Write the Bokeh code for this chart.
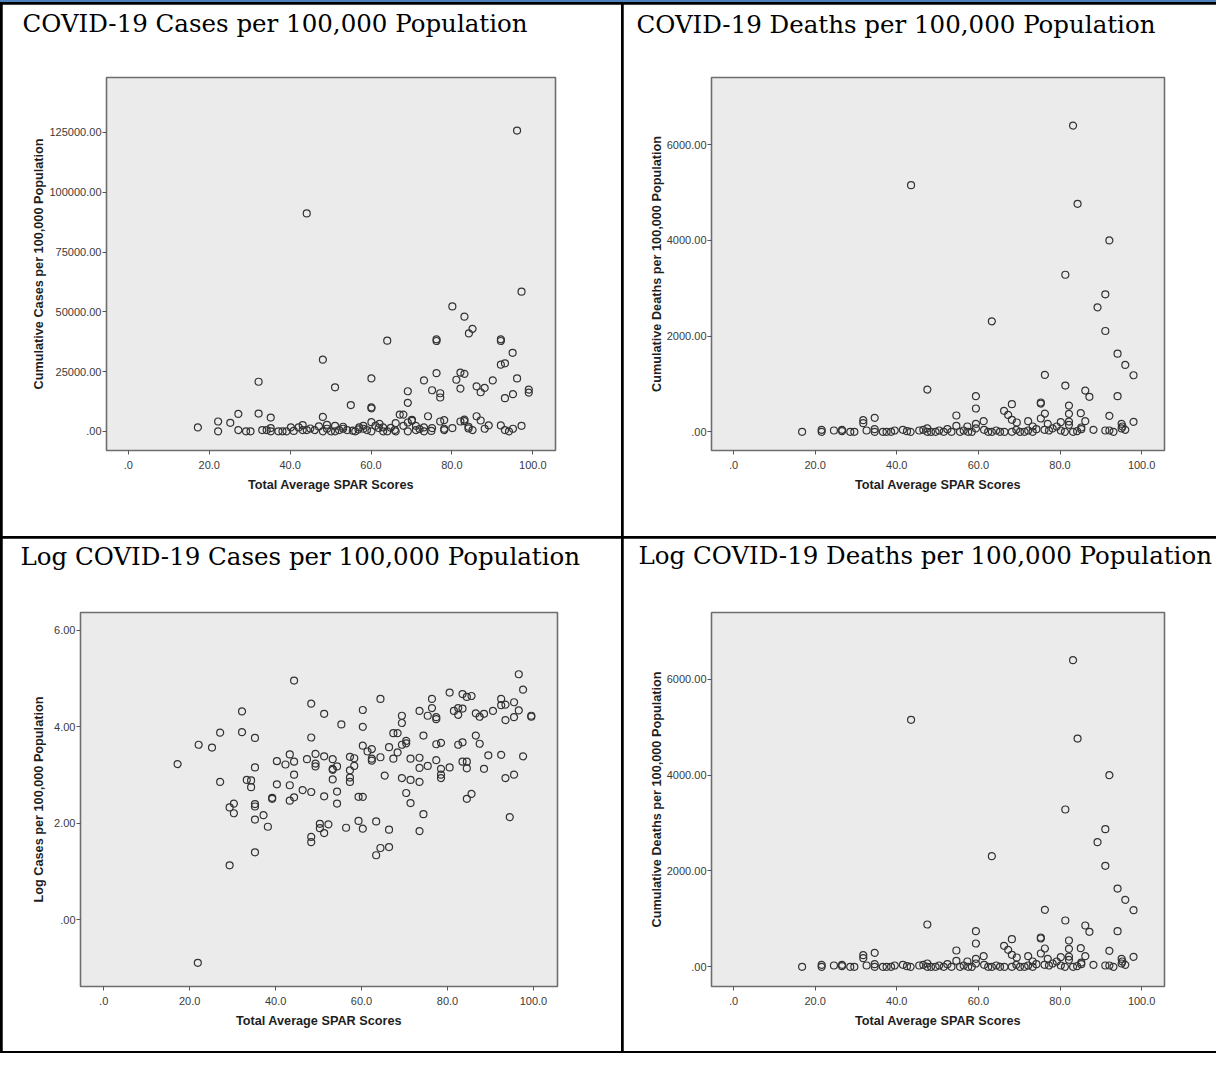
from bokeh.plotting import figure
from bokeh.models import FixedTicker, Title
from bokeh.layouts import row, column
from bokeh.embed import file_html
from bokeh.resources import INLINE

# ---------------- data ----------------
x_ticks = [0, 20, 40, 60, 80, 100]
x_tick_labels = [".0", "20.0", "40.0", "60.0", "80.0", "100.0"]

cases_ticks = [0, 25000, 50000, 75000, 100000, 125000]
cases_tick_labels = [".00", "25000.00", "50000.00", "75000.00", "100000.00", "125000.00"]
deaths_ticks = [0, 2000, 4000, 6000]
deaths_tick_labels = [".00", "2000.00", "4000.00", "6000.00"]
log_ticks = [0, 2, 4, 6]
log_tick_labels = [".00", "2.00", "4.00", "6.00"]

titles = ["COVID-19 Cases per 100,000 Population",
          "COVID-19 Deaths per 100,000 Population",
          "Log COVID-19 Cases per 100,000 Population",
          "Log COVID-19 Deaths per 100,000 Population"]
x_label = "Total Average SPAR Scores"
y_labels = ["Cumulative Cases per 100,000 Population",
            "Cumulative Deaths per 100,000 Population",
            "Log Cases per 100,000 Population",
            "Cumulative Deaths per 100,000 Population"]

spar_cases = [96.1, 44.1, 97.2, 80.1, 83.1, 85.1, 84.2, 64.0, 76.2, 76.2, 92.1, 92.1,
              48.1, 95.0, 92.1, 93.1, 32.2, 60.1, 76.2, 82.1, 83.1, 73.1, 81.1, 90.1,
              96.1, 51.1, 69.1, 75.1, 77.1, 77.1, 82.1, 86.1, 87.1, 88.1, 93.1, 95.1,
              99.0, 99.0, 69.1, 55.0, 60.1, 60.1,
              17.2, 22.2, 22.2, 25.2, 27.2, 27.2, 32.2, 29.1, 30.2, 33.1, 34.2, 35.2,
              35.2, 35.2, 37.1, 38.1, 39.1, 40.2, 42.1, 43.1, 43.1, 44.1, 46.1, 47.1,
              48.1, 48.1, 49.1, 49.1, 50.1, 51.1, 51.1, 52.1, 53.1, 53.1, 54.1, 56.1,
              57.1, 58.1, 58.1, 59.0, 60.1, 60.1, 61.1, 62.1, 63.0, 64.0, 63.0, 66.1,
              66.1, 67.1, 68.0, 68.0, 69.1, 69.1, 70.1, 70.1, 71.1, 71.1, 73.1, 73.1,
              74.1, 75.1, 77.1, 78.1, 78.1, 78.1, 80.1, 82.1, 83.1, 83.1, 84.1, 84.1,
              85.1, 86.1, 87.1, 88.1, 89.1, 92.1, 93.1, 94.1, 95.1, 97.2,
              45.0, 55.5, 64.9, 72.0, 74.9, 65.9, 56.9, 61.9, 40.9]
cases = [125800, 91160, 58440, 52250, 47990, 42900, 40980, 37950, 38500, 37800, 38500, 37800,
         29980, 32860, 27900, 28460, 20760, 22140, 24340, 24610, 24060, 21310, 21590, 21310,
         22140, 18430, 16780, 17190, 15950, 14160, 17880, 18840, 16360, 18150, 13890, 15540,
         17460, 16220, 11960, 11000, 10040, 9620,
         1650, 4125, 0, 3575, 7290, 550, 7425, 0, 0, 550, 550, 5775,
         1375, 0, 0, 0, 0, 1650, 1650, 2610, 550, 550, 550, 2060,
         6050, 0, 2750, 1100, 0, 0, 2340, 550, 1925, 1100, 550, 0,
         1650, 2340, 1100, 550, 3850, 0, 2340, 3160, 0, 0, 1650, 3440,
         0, 7010, 7010, 2340, 3710, 0, 4810, 4400, 2340, 550, 1650, 0,
         6325, 1375, 4125, 4675, 1100, 550, 1375, 4125, 4950, 4260, 1925, 1240,
         550, 6325, 4540, 1100, 2475, 2475, 550, 0, 1100, 2340,
         1200, 300, 1500, 1000, 200, 600, 800, 1400, 200]

spar_deaths = [83.2, 43.5, 84.3, 92.1, 81.3, 91.1, 89.2, 63.3, 91.1, 94.1, 96.0, 76.3,
               98.0, 81.3, 47.5, 86.2, 87.2, 59.4, 94.1, 75.3, 75.3, 68.2, 82.2, 59.4,
               66.3, 85.1, 76.3, 54.6, 34.6, 82.2, 67.3, 92.1, 75.3, 31.8, 31.8, 61.3,
               72.2, 86.2, 98.0, 68.2, 82.2, 77.0, 80.2, 69.4, 79.2, 95.1, 82.2, 54.6,
               57.3, 85.2, 73.3, 95.3, 59.4,
               16.8, 21.6, 21.6, 24.6, 26.6, 26.6, 28.6, 29.6, 32.6, 34.6, 34.6, 36.6,
               37.5, 38.6, 39.5, 41.5, 42.5, 43.4, 45.5, 46.5, 47.5, 47.5, 48.4, 49.5,
               50.4, 51.5, 52.4, 53.4, 55.5, 56.4, 57.5, 58.4, 59.4, 61.4, 62.4, 63.3,
               64.4, 65.3, 66.4, 68.2, 69.3, 70.2, 71.3, 72.2, 73.3, 74.2, 76.2, 77.3,
               78.2, 80.2, 81.2, 83.2, 84.2, 85.2, 88.2, 91.1, 92.1, 93.1, 95.1, 96.0]
deaths = [6395, 5151, 4761, 3997, 3281, 2871, 2600, 2308, 2106, 1633, 1397, 1189,
          1182, 966, 883, 862, 730, 744, 744, 591, 612, 577, 549, 487,
          438, 389, 382, 341, 292, 375, 354, 334, 278, 243, 181, 222,
          222, 222, 208, 250, 215, 167, 202, 195, 111, 167, 146, 125,
          111, 90, 111, 111, 167,
          0, 42, 0, 28, 42, 14, 0, 0, 28, 0, 56, 0,
          0, 0, 28, 42, 14, 0, 28, 42, 0, 70, 0, 0,
          28, 0, 56, 0, 0, 28, 0, 0, 70, 42, 0, 0,
          28, 0, 0, 0, 42, 0, 0, 28, 0, 56, 42, 28,
          70, 28, 0, 0, 14, 56, 42, 28, 28, 0, 70, 42]

spar_log = [17.2, 22.1, 25.2, 27.1, 27.1, 32.2, 32.2, 35.2, 35.2, 33.3, 34.3, 34.3,
            29.3, 30.3, 30.3, 35.2, 35.2, 35.2, 37.2, 38.2, 35.2, 29.3, 39.2, 39.2,
            40.3, 40.3, 42.3, 43.3, 43.3, 43.3, 44.3, 44.3, 44.3, 44.3, 46.3, 47.3,
            48.3, 48.3, 48.3, 48.3, 48.3, 49.3, 49.3, 49.3, 50.3, 50.3, 51.3, 51.3,
            51.3, 51.3, 52.3, 53.3, 53.3, 53.3, 53.3, 54.3, 54.3, 54.3, 55.3, 56.4,
            57.3, 57.3, 57.3, 57.3, 58.3, 58.3, 59.3, 59.3, 60.3, 60.3, 60.3, 60.3,
            60.3, 61.4, 62.4, 62.4, 62.4, 63.4, 63.4, 64.4, 64.4, 64.4, 65.4, 66.4,
            66.4, 66.4, 67.4, 67.4, 68.4, 68.4, 69.4, 69.4, 69.4, 69.4, 70.4, 70.4,
            70.4, 71.4, 71.4, 71.4, 73.5, 73.5, 73.5, 73.5, 73.5, 74.4, 74.4, 75.4,
            75.4, 76.4, 76.4, 77.4, 77.4, 77.4, 77.4, 78.5, 78.5, 78.5, 78.5, 80.5,
            80.5, 81.5, 82.5, 82.5, 82.5, 83.5, 83.5, 83.5, 83.5, 84.5, 84.5, 84.5,
            84.5, 85.6, 85.6, 86.6, 86.6, 87.5, 87.5, 88.5, 88.5, 89.5, 90.6, 92.5,
            92.5, 92.5, 93.5, 93.5, 93.5, 94.5, 95.5, 95.5, 95.5, 96.6, 96.6, 97.6,
            97.6, 99.5, 99.5, 21.9]
log_cases = [3.23, 3.63, 3.57, 3.88, 2.86, 4.32, 3.89, 3.77, 3.16, 2.90, 2.89, 2.75,
             2.33, 2.41, 2.21, 2.40, 2.35, 2.08, 2.17, 1.93, 1.40, 1.13, 2.53, 2.51,
             2.81, 3.29, 3.22, 3.43, 2.79, 2.47, 3.28, 3.01, 2.54, 4.96, 2.69, 3.33,
             4.48, 3.78, 2.65, 1.72, 1.61, 3.44, 3.24, 3.18, 1.99, 1.90, 4.27, 3.39,
             2.56, 1.80, 1.98, 3.33, 3.13, 3.11, 2.91, 3.18, 2.66, 2.41, 4.05, 1.91,
             3.38, 3.10, 2.95, 2.86, 3.35, 3.19, 2.55, 2.05, 4.35, 4.00, 3.61, 2.55,
             1.89, 3.49, 3.54, 3.34, 3.30, 2.04, 1.34, 4.58, 3.37, 1.49, 2.99, 3.58,
             1.87, 1.51, 3.87, 3.34, 3.87, 3.47, 4.23, 4.08, 3.63, 2.94, 3.71, 3.66,
             2.63, 3.34, 2.90, 2.42, 4.33, 3.36, 3.15, 2.86, 1.84, 3.82, 2.19, 4.23,
             3.19, 4.58, 4.39, 4.20, 4.16, 3.64, 3.31, 3.67, 3.13, 3.01, 2.94, 4.71,
             3.16, 4.33, 4.39, 4.25, 3.63, 4.68, 4.38, 3.68, 3.28, 4.62, 3.28, 3.14,
             2.51, 4.64, 2.61, 4.28, 3.82, 4.21, 3.65, 4.27, 3.13, 3.41, 4.33, 4.58,
             4.45, 3.42, 4.46, 4.14, 2.94, 2.13, 4.51, 4.20, 3.01, 5.09, 4.34, 4.77,
             3.39, 4.23, 4.21, -0.89]


def make_panel(title, xs, ys, ylabel, yticks, ytick_labels, yrange,
               w, h, mb_left, mb_right, mb_top, mb_bottom,
               title_offset, spacer, ylabel_standoff):
    p = figure(width=w, height=h, output_backend="svg", toolbar_location=None,
               x_range=(-5.4, 105.6), y_range=yrange,
               min_border_left=mb_left, min_border_right=mb_right,
               min_border_top=mb_top, min_border_bottom=mb_bottom)
    # thin invisible spacer between frame and title, so the title sits at the cell top
    p.add_layout(Title(text=" ", text_font_size="1px", standoff=spacer), "above")
    p.title.text = title
    p.title.text_font = "DejaVu Serif"
    p.title.text_font_size = "24.5px"
    p.title.text_font_style = "normal"
    p.title.text_color = "black"
    p.title.align = "left"
    p.title.offset = title_offset
    p.title.standoff = 0

    p.background_fill_color = "#ebebeb"
    p.border_fill_color = "white"
    p.outline_line_color = "#6e6e6e"
    p.outline_line_width = 1.6
    p.xgrid.visible = False
    p.ygrid.visible = False

    p.scatter(xs, ys, marker="circle", size=7, fill_color=None,
              line_color="#333333", line_width=1.2)

    p.xaxis.ticker = FixedTicker(ticks=x_ticks)
    p.xaxis.major_label_overrides = dict(zip(x_ticks, x_tick_labels))
    p.yaxis.ticker = FixedTicker(ticks=yticks)
    p.yaxis.major_label_overrides = dict(zip(yticks, ytick_labels))
    p.xaxis.axis_label = x_label
    p.yaxis.axis_label = ylabel

    for ax in (p.xaxis, p.yaxis):
        ax.axis_line_color = None
        ax.major_tick_out = 4
        ax.major_tick_in = 0
        ax.minor_tick_out = 0
        ax.minor_tick_in = 0
        ax.major_tick_line_color = "#555555"
        ax.major_label_text_font = "Liberation Sans"
        ax.major_label_text_font_size = "11px"
        ax.major_label_text_color = "#3a3a3a"
        ax.axis_label_text_font = "Liberation Sans"
        ax.axis_label_text_font_style = "bold"
        ax.axis_label_text_font_size = "12.7px"
        ax.axis_label_text_color = "#1e1e1e"
    p.xaxis.major_label_standoff = 6
    p.xaxis.axis_label_standoff = 6
    p.yaxis.major_label_standoff = 1
    p.yaxis.axis_label_standoff = ylabel_standoff
    return p


p1 = make_panel(titles[0], spar_cases, cases, y_labels[0], cases_ticks, cases_tick_labels,
                (-8000, 148000), 619, 532, 104, 66, 71, 83, -84, 36.5, 1)
p2 = make_panel(titles[1], spar_deaths, deaths, y_labels[1], deaths_ticks, deaths_tick_labels,
                (-390, 7400), 593, 532, 88, 52, 73, 86, -75, 35.5, 0)
p3 = make_panel(titles[2], spar_log, log_cases, y_labels[2], log_ticks, log_tick_labels,
                (-1.38, 6.37), 619, 513, 78, 64, 71, 63, -60, 39, 5)
p4 = make_panel(titles[3], spar_deaths, deaths, y_labels[3], deaths_ticks, deaths_tick_labels,
                (-410, 7390), 593, 513, 88, 52, 74, 65, -73, 39.5, 0)

top = row(p1, p2, spacing=2, styles={"background-color": "black"})
bottom = row(p3, p4, spacing=2, styles={"background-color": "black"})
page = column(top, bottom, spacing=2,
              styles={"background-color": "black", "padding": "2px 0px 2px 2px",
                      "border-top": "2px solid #4f81bd"})

open("out.html", "w").write(file_html(page, INLINE))
